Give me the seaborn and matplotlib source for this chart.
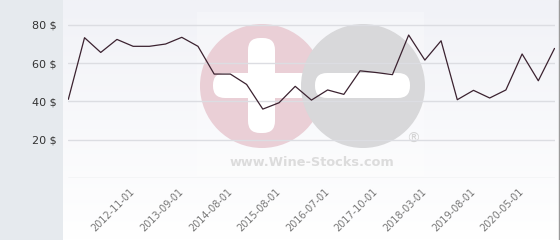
import numpy as np
import pandas as pd
import matplotlib
matplotlib.use("Agg")
import matplotlib.pyplot as plt
from matplotlib.patches import Circle, FancyBboxPatch, Rectangle
import seaborn as sns

# ---- data ----
prices = [41.1, 73.3, 65.6, 72.4, 68.8, 68.8, 70.0, 73.5, 68.8, 54.3,
          54.3, 48.9, 36.0, 39.3, 47.9, 40.7, 46.0, 43.7, 56.0, 55.1,
          54.0, 74.7, 61.6, 71.7, 40.9, 45.8, 41.8, 46.0, 64.8, 50.8, 67.7]
date_labels = ["", "", "", "", "2012-11-01", "", "", "2013-09-01", "", "",
               "2014-08-01", "", "", "2015-08-01", "", "", "2016-07-01", "", "",
               "2017-10-01", "", "", "2018-03-01", "", "", "2019-08-01", "", "",
               "2020-05-01", "", ""]
y_ticks = [0, 20, 40, 60, 80]
y_tick_labels = ["", "20 $", "40 $", "60 $", "80 $"]

df = pd.DataFrame({"idx": np.arange(len(prices)), "price": prices})

sns.set_theme(style="white")
plt.rcParams["font.family"] = ["DejaVu Sans"]

W, H = 560, 240
fig = plt.figure(figsize=(W / 100, H / 100), dpi=100)
fig.patch.set_facecolor("white")

# background / watermark layer in pixel coordinates
bg = fig.add_axes([0, 0, 1, 1], zorder=0)
bg.set_xlim(0, W)
bg.set_ylim(H, 0)
bg.axis("off")
grad = np.linspace(0, 1, 200)[:, None]
top = np.array([241, 242, 247]) / 255
bot = np.array([255, 255, 255]) / 255
img = top[None, None, :] * (1 - grad[..., None]) + bot[None, None, :] * grad[..., None]
img = np.repeat(img, 2, axis=1)
bg.imshow(img, extent=(63, 559, 240, 0), aspect="auto", zorder=0)
bg.add_patch(Rectangle((0, 0), 63, 240, color="#e6eaee", zorder=1, lw=0))
# watermark
bg.add_patch(Rectangle((197, 12), 227, 164, color="white", alpha=0.25, zorder=1, lw=0))
bg.add_patch(Circle((262, 86), 62, color="#eacfd6", zorder=2, lw=0))
bg.add_patch(FancyBboxPatch((248, 38), 27, 95, boxstyle="round,pad=0,rounding_size=12",
                            color="white", zorder=3, lw=0))
bg.add_patch(FancyBboxPatch((213, 73), 100, 25, boxstyle="round,pad=0,rounding_size=12",
                            color="white", zorder=3, lw=0))
bg.add_patch(Circle((363, 86), 62, color="#d8d8da", zorder=4, lw=0))
bg.add_patch(FancyBboxPatch((315, 73), 95, 25, boxstyle="round,pad=0,rounding_size=12",
                            color="white", zorder=5, lw=0))
bg.text(312, 162, "www.Wine-Stocks.com", ha="center", va="center",
        fontsize=9.3, fontweight="bold", color="#dcdcdc", zorder=6)
bg.text(413, 139, "®", ha="center", va="center", fontsize=10, color="#d4d4d4", zorder=6)

# main chart
ax = fig.add_axes([68 / W, (H - 178) / H, (555 - 68) / W, 178 / H], zorder=2)
ax.set_facecolor("none")
sns.lineplot(data=df, x="idx", y="price", ax=ax, color="#3b2230", linewidth=0.9)
ax.set_xlim(-0.02, len(prices) - 1 + 0.03)
ax.set_ylim(0, 93)
ax.set_yticks(y_ticks)
ax.set_yticklabels(y_tick_labels)
ax.grid(axis="y", color="#dcdde2", linewidth=1)
ax.grid(axis="x", visible=False)
ax.set_axisbelow(True)
for s in ax.spines.values():
    s.set_visible(False)
ax.tick_params(axis="y", length=0, pad=8, labelsize=8, labelcolor="#333333")
pos = [i for i, l in enumerate(date_labels) if l]
ax.set_xticks(pos)
ax.set_xticklabels([date_labels[i] for i in pos], rotation=45, ha="right", va="center",
                   rotation_mode="anchor", fontsize=7, color="#777777")
ax.tick_params(axis="x", length=0, pad=9)
ax.set_xlabel("")
ax.set_ylabel("")

fig.add_artist(plt.Line2D([558.5 / W, 558.5 / W], [0, 1], color="#9a9a9a", lw=1))

fig.savefig("out.png", dpi=100)
